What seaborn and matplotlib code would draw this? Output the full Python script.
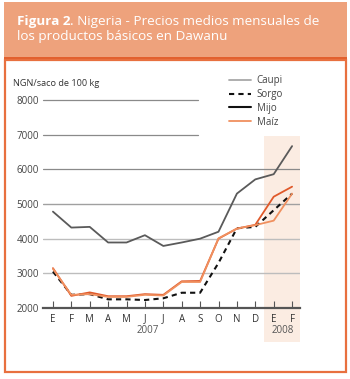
import matplotlib
matplotlib.use("Agg")
import matplotlib.pyplot as plt
import seaborn as sns
import pandas as pd
from matplotlib.patches import Rectangle
from matplotlib.lines import Line2D

months = ["E", "F", "M", "A", "M", "J", "J", "A", "S", "O", "N", "D", "E", "F"]
caupi = [4780, 4320, 4340, 3890, 3890, 4100, 3790, 3890, 4000, 4200, 5300, 5710, 5860, 6670]
sorgo = [3050, 2380, 2400, 2250, 2250, 2230, 2280, 2440, 2440, 3300, 4300, 4340, 4820, 5300]
mijo = [3150, 2350, 2450, 2340, 2340, 2400, 2380, 2770, 2780, 4000, 4290, 4400, 5210, 5500]
maiz = [3130, 2380, 2400, 2320, 2320, 2380, 2360, 2750, 2750, 4010, 4290, 4390, 4520, 5300]
series_names = ["Caupi", "Sorgo", "Mijo", "Maíz"]
yticks = [2000, 3000, 4000, 5000, 6000, 7000, 8000]
title_bold = "Figura 2"
title_line1 = ". Nigeria - Precios medios mensuales de"
title_line2 = "los productos básicos en Dawanu"
ylabel = "NGN/saco de 100 kg"
years = ["2007", "2008"]

sns.set_theme(style="white")
plt.rcParams['font.family'] = ['Open Sans', 'DejaVu Sans']

W, H = 350, 379
fig = plt.figure(figsize=(W / 100, H / 100), dpi=100)

def fx(px):
    return px / W

def fy(py):
    return 1 - py / H

# header box
fig.patches.append(Rectangle((fx(4), fy(57)), fx(343), 55 / H, transform=fig.transFigure,
                             facecolor="#EEA27C", edgecolor="none", zorder=-5))
fig.patches.append(Rectangle((fx(4), fy(60)), fx(343), 3 / H, transform=fig.transFigure,
                             facecolor="#E2602E", edgecolor="none", zorder=-5))
# body border
fig.patches.append(Rectangle((fx(5), fy(372)), fx(341), 312 / H, transform=fig.transFigure,
                             facecolor="white", edgecolor="#E8703F", lw=1.6, zorder=-5))

TS = 9.7
tb = fig.text(fx(17), fy(24.5), title_bold, color="white", fontsize=TS, fontweight="bold",
              va="baseline", ha="left")
fig.canvas.draw()
bb = tb.get_window_extent(renderer=fig.canvas.get_renderer())
fig.text(bb.x1 / W, fy(24.5), title_line1, color="white", fontsize=TS,
         va="baseline", ha="left")
fig.text(fx(17), fy(40), title_line2, color="white", fontsize=TS,
         va="baseline", ha="left")

ax = fig.add_axes([fx(43), fy(308), fx(300) - fx(43), (308 - 100) / H])
ax.set_facecolor("none")

x = list(range(len(months)))
df = pd.DataFrame({"x": x * 4,
                   "y": caupi + sorgo + mijo + maiz,
                   "s": sum([[n] * len(x) for n in series_names], [])})

# shaded 2008 region
ax.add_patch(Rectangle((11.46, 1020), 13.45 - 11.46, 6960 - 1020, facecolor="#FBECE2",
                       edgecolor="none", clip_on=False, zorder=0))

# gridlines
for v in [3000, 4000]:
    ax.axhline(v, color="#BDBDBD", lw=1.0, zorder=1)
ax.axhline(5000, color="#A0A0A0", lw=1.0, zorder=1)
ax.axhline(6000, color="#8A8A8A", lw=0.9, zorder=1)
for v in [7000, 8000]:
    ax.axhline(v, xmax=(198 - 43) / (300 - 43), color="#8A8A8A", lw=0.9, zorder=1, clip_on=False)

colors = {"Caupi": "#5A5A5A", "Sorgo": "#111111", "Mijo": "#E0592A", "Maíz": "#F0905F"}
for n in series_names:
    d = df[df.s == n]
    kw = dict(color=colors[n], lw=1.3, zorder=3)
    if n == "Sorgo":
        kw.update(lw=1.5, dashes=(2.5, 2.0))
    sns.lineplot(data=d, x="x", y="y", ax=ax, legend=False, **kw)

ax.set_xlim(-0.54, 13.43)
ax.set_ylim(2000, 8000)
for s in ["top", "right", "left"]:
    ax.spines[s].set_visible(False)
ax.spines["bottom"].set_color("#555555")
ax.spines["bottom"].set_linewidth(1.6)
ax.spines["bottom"].set_zorder(4)
ax.set_xticks(x)
ax.set_xticklabels(months)
ax.set_yticks(yticks)
ax.set_yticklabels([str(v) for v in yticks])
ax.tick_params(axis="x", direction="in", length=5, width=0.8, color="#555555",
               labelsize=7, labelcolor="#333333", pad=4, bottom=True)
ax.tick_params(axis="y", length=0, labelsize=7, labelcolor="#444444", pad=3)
ax.set_xlabel("")
ax.set_ylabel("")

fig.text(fx(13), fy(86), ylabel, fontsize=6.6, color="#333333", ha="left", va="baseline")
fig.text(fx(148), fy(333), years[0], fontsize=7, color="#555555", ha="center", va="baseline")
fig.text(fx(283), fy(333), years[1], fontsize=7, color="#555555", ha="center", va="baseline")

handles = [Line2D([], [], color="#A8A8A8", lw=1.3),
           Line2D([], [], color="#111111", lw=1.5, dashes=(2.5, 2.0)),
           Line2D([], [], color="#111111", lw=1.5),
           Line2D([], [], color="#F0905F", lw=1.3)]
fig.legend(handles, series_names, loc="upper left", bbox_to_anchor=(fx(229), fy(75)),
           frameon=False, fontsize=7, handlelength=2.3, handletextpad=0.55,
           labelspacing=0.3, labelcolor="#444444", borderpad=0, borderaxespad=0)

fig.savefig("out.png", dpi=100)
